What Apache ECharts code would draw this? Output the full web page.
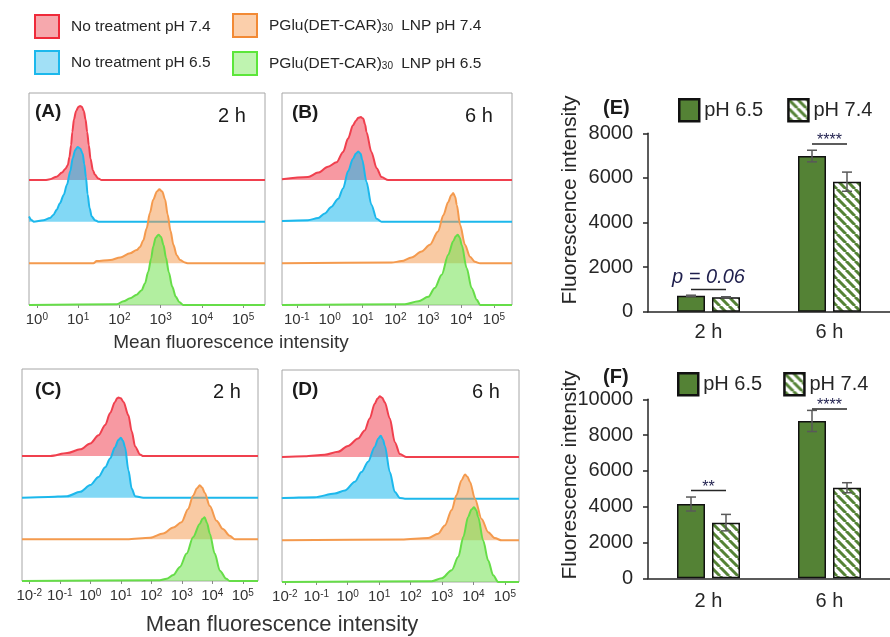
<!DOCTYPE html>
<html><head><meta charset="utf-8">
<script src="https://cdn.jsdelivr.net/npm/echarts@6/dist/echarts.min.js"></script>
<style>html,body{margin:0;padding:0;background:#fff}#c{width:890px;height:637px}</style>
</head><body><div id="c"></div>
<script>
// ---------- Histogram data: [log10(fluorescence), % of mode] ----------
const aRed    = [[0.20,0],[0.32,1],[0.48,4.5],[0.61,10],[0.69,15],[0.75,20],[0.79,31],[0.83,47],[0.86,65],[0.90,82],[0.95,93],[1.01,99],[1.05,100],[1.09,99],[1.14,93],[1.18,82],[1.22,65],[1.26,47],[1.30,29],[1.36,13],[1.41,7],[1.49,2],[1.57,0]];
const aBlue   = [[-0.19,7],[-0.12,2],[-0.08,0],[0.16,2],[0.32,5],[0.40,9],[0.48,16],[0.56,25],[0.65,36],[0.73,50],[0.81,68],[0.87,86],[0.93,97],[0.99,101],[1.05,99],[1.11,92],[1.15,78],[1.19,60],[1.23,37],[1.28,18],[1.33,7],[1.41,2],[1.49,0]];
const aOrange = [[1.37,0],[1.45,3],[1.78,4.5],[2.02,8],[2.26,13.5],[2.42,18],[2.50,22],[2.58,31],[2.66,47],[2.74,68],[2.82,86],[2.91,97],[2.97,100],[3.04,97],[3.11,86],[3.17,66],[3.24,44],[3.31,25],[3.39,11],[3.47,4.5],[3.59,1],[3.67,0]];
const aGreen  = [[1.94,1],[2.10,5],[2.26,9],[2.42,14],[2.54,20],[2.62,29],[2.70,45],[2.77,63],[2.82,79],[2.88,91],[2.95,95],[3.01,92],[3.07,81],[3.13,64],[3.20,44],[3.28,25],[3.37,11],[3.45,4],[3.55,0]];

const bRed    = [[-1.45,1],[-0.66,4],[-0.35,10],[-0.05,18],[0.21,24],[0.41,38],[0.56,56],[0.71,74],[0.80,80],[0.87,84],[0.95,85],[1.02,83],[1.08,75],[1.12,65],[1.27,38],[1.43,16],[1.58,4],[1.78,0]];
const bBlue   = [[-1.45,1],[-0.66,2],[-0.35,5],[-0.15,11],[0.05,20],[0.26,31],[0.41,45],[0.56,68],[0.71,85],[0.80,92],[0.87,95],[0.94,92],[0.99,84],[1.12,54],[1.27,23],[1.43,4],[1.58,0]];
const bOrange = [[1.88,1],[2.19,3],[2.49,8],[2.80,16],[3.05,25],[3.30,43],[3.46,65],[3.61,83],[3.70,92],[3.76,95],[3.82,90],[3.87,79],[3.97,52],[4.12,25],[4.27,9],[4.42,2],[4.58,0]];
const bGreen  = [[2.29,1],[2.70,5],[3.00,11],[3.20,23],[3.41,41],[3.61,68],[3.76,86],[3.84,93],[3.90,95],[3.96,91],[4.02,81],[4.17,50],[4.32,23],[4.48,7],[4.58,0]];

const cRed    = [[-1.31,0],[-0.76,4],[-0.33,9],[0.00,17],[0.27,28],[0.49,42],[0.65,58],[0.81,73],[0.88,78],[0.92,79],[1.00,78],[1.09,73],[1.25,55],[1.36,33],[1.47,13],[1.63,2],[1.74,0]];
const cBlue   = [[-1.37,1],[-0.76,2],[-0.33,8],[0.00,17],[0.27,28],[0.49,41],[0.65,53],[0.81,68],[0.92,78],[1.00,81],[1.07,77],[1.14,68],[1.25,37],[1.36,12],[1.47,2],[1.74,0]];
const cOrange = [[1.20,0],[1.96,2],[2.39,8],[2.72,16],[2.99,23],[3.21,41],[3.37,59],[3.50,69],[3.59,73],[3.67,70],[3.75,63],[3.92,45],[4.14,25],[4.35,14],[4.57,5],[4.74,0]];
const cGreen  = [[2.28,1],[2.50,3],[2.72,8],[2.94,19],[3.16,37],[3.37,59],[3.59,77],[3.68,84],[3.75,86],[3.83,78],[3.92,64],[4.08,37],[4.25,14],[4.46,3],[4.57,0]];

const dRed    = [[-1.37,1],[-0.73,3],[-0.31,7],[0.01,15],[0.33,25],[0.54,36],[0.70,52],[0.86,72],[0.95,79],[1.02,82],[1.10,80],[1.18,74],[1.34,52],[1.50,20],[1.66,4],[1.87,0]];
const dBlue   = [[-2.06,1],[-1.05,2],[-0.41,7],[-0.09,11],[0.23,23],[0.44,36],[0.65,50],[0.86,70],[0.97,81],[1.05,85],[1.12,80],[1.18,72],[1.34,36],[1.50,9],[1.66,1],[1.82,0]];
const dOrange = [[1.71,1],[2.56,3],[2.88,9],[3.09,20],[3.31,41],[3.46,61],[3.62,81],[3.73,89],[3.81,86],[3.89,79],[4.05,56],[4.26,29],[4.47,11],[4.68,3],[4.90,0]];
const dGreen  = [[2.67,1],[2.99,5],[3.31,16],[3.52,34],[3.68,61],[3.83,88],[3.94,98],[4.02,101],[4.09,97],[4.15,88],[4.31,56],[4.47,29],[4.63,9],[4.79,0]];

const ticksA = [0,1,2,3,4,5];
const ticksB = [-1,0,1,2,3,4,5];
const ticksC = [-2,-1,0,1,2,3,4,5];
const ticksD = [-2,-1,0,1,2,3,4,5];

const histNames = ['No treatment pH 7.4','No treatment pH 6.5','PGlu(DET-CAR)30 LNP pH 7.4','PGlu(DET-CAR)30 LNP pH 6.5'];

// ---------- Bar data ----------
const cats = ['2 h','6 h'];
const e65 = [710, 6980];   const e65err = [30, 260];
const e74 = [645, 5830];   const e74err = [25, 430];
const f65 = [4150, 8790];  const f65err = [390, 590];
const f74 = [3110, 5060];  const f74err = [460, 280];
const sigEcat = [0, 1];  const sigElevel = [1000, 7520];  const sigEtext = ['p = 0.06', '****'];
const sigFcat = [0, 1];  const sigFlevel = [4900, 9460];  const sigFtext = ['**', '****'];

// ---------- styling ----------
const FONT = '"Liberation Sans", Arial, Helvetica, sans-serif';
const lineColors = ['#f0404e','#1cb8ec','#f49a4e','#66dd48'];
const fillColors = ['rgba(240,70,85,0.55)','rgba(28,184,236,0.55)','rgba(244,154,78,0.52)','rgba(115,226,82,0.55)'];
const legFill = ['#f6a8ad','#a2e0f6','#fbcfab','#bff4b0'];
const legBorder = ['#ef2a3a','#1cb8ec','#f28a35','#5ce63a'];
const GREEN = '#548235';
const YMAX = 286.5, ROW = 56.3;

function hatchCanvas(){
  const c = document.createElement('canvas'); c.width = 9; c.height = 9;
  const g = c.getContext('2d');
  g.fillStyle = '#fff'; g.fillRect(0,0,9,9);
  g.strokeStyle = GREEN; g.lineWidth = 3;
  for (const o of [-9,0,9]) { g.beginPath(); g.moveTo(o,0); g.lineTo(o+9,9); g.stroke(); }
  return c;
}
const HATCH = {image: hatchCanvas(), repeat: 'repeat'};

const panels = [
  {data:[aRed,aBlue,aOrange,aGreen], min:-0.19, max:5.53, ticks:ticksA, grid:{left:29, top:93, width:236, height:212}},
  {data:[bRed,bBlue,bOrange,bGreen], min:-1.45, max:5.55, ticks:ticksB, grid:{left:282, top:93, width:230, height:212}},
  {data:[cRed,cBlue,cOrange,cGreen], min:-2.24, max:5.50, ticks:ticksC, grid:{left:22, top:369, width:236, height:212}},
  {data:[dRed,dBlue,dOrange,dGreen], min:-2.09, max:5.45, ticks:ticksD, grid:{left:282, top:370, width:237, height:212}}
];

const grids = [], xAxes = [], yAxes = [], series = [];
panels.forEach((p, pi) => {
  grids.push(Object.assign({show:true, borderColor:'#a6a6a6', borderWidth:1, backgroundColor:'#fff'}, p.grid));
  xAxes.push({gridIndex:pi, type:'value', min:p.min, max:p.max,
    axisLine:{show:false}, splitLine:{show:false},
    axisTick:{show:true, customValues:p.ticks, length:3, lineStyle:{color:'#888'}},
    axisLabel:{customValues:p.ticks, margin:7, fontFamily:FONT,
      formatter: v => '{b|10}{s|' + v + '}',
      rich:{b:{fontSize:15, color:'#333', fontFamily:FONT}, s:{fontSize:10, color:'#333', verticalAlign:'top', fontFamily:FONT}}}});
  yAxes.push({gridIndex:pi, type:'value', min:0, max:YMAX, show:false});
  p.data.forEach((d, k) => {
    const off = (3 - k) * ROW;
    const pts = d.slice();
    if (pts[0][0] > p.min) pts.unshift([p.min, 0]);
    if (pts[pts.length-1][0] < p.max) pts.push([p.max, 0]);
    series.push({type:'line', name:histNames[k], xAxisIndex:pi, yAxisIndex:pi,
      data: pts.map(q => [q[0], q[1] + off]), symbol:'none', smooth:0.3, smoothMonotone:'x',
      lineStyle:{color:lineColors[k], width:2}, itemStyle:{color:lineColors[k]},
      areaStyle:{origin:off, color:fillColors[k], opacity:1}, z:2+k, silent:true});
  });
});

function errRender(dx){
  return function(params, api){
    const i = api.value(0), v = api.value(1), e = api.value(2);
    const t = api.coord([i, v + e]), b = api.coord([i, v - e]);
    const x = t[0] + dx, w = 5;
    const st = {stroke:'#595959', lineWidth:1.5};
    return {type:'group', children:[
      {type:'line', shape:{x1:x, y1:t[1], x2:x, y2:b[1]}, style:st},
      {type:'line', shape:{x1:x-w, y1:t[1], x2:x+w, y2:t[1]}, style:st},
      {type:'line', shape:{x1:x-w, y1:b[1], x2:x+w, y2:b[1]}, style:st}]};
  };
}
function sigRender(texts){
  return function(params, api){
    const i = api.value(0), lvl = api.value(1);
    const p = api.coord([i, lvl]);
    const t = texts[params.dataIndex];
    const star = t.charAt(0) === '*';
    return {type:'group', children:[
      {type:'line', shape:{x1:p[0]-17.5, y1:p[1], x2:p[0]+17.5, y2:p[1]}, style:{stroke:'#262626', lineWidth:1.5}},
      {type:'text', x:p[0], y: star ? p[1] + 5 : p[1] - 2,
        style:{text:t, fontSize: star ? 16 : 20, fontStyle: star ? 'normal' : 'italic', fontFamily:FONT,
               fill:'#1f1f4d', align:'center', verticalAlign:'bottom'}}]};
  };
}

const barPanels = [
  {v65:e65, v74:e74, r65:e65err, r74:e74err, max:8000, sc:sigEcat, sl:sigElevel, st:sigEtext, grid:{left:648, top:133.3, width:247, height:178.4}, lm:11},
  {v65:f65, v74:f74, r65:f65err, r74:f74err, max:10000, sc:sigFcat, sl:sigFlevel, st:sigFtext, grid:{left:648, top:399.3, width:247, height:179}, lm:13}
];
barPanels.forEach((b, j) => {
  const gi = 4 + j;
  grids.push(b.grid);
  xAxes.push({gridIndex:gi, type:'category', data:cats,
    axisLine:{lineStyle:{color:'#262626', width:1.5}}, axisTick:{show:false},
    axisLabel:{fontSize:20, color:'#262626', margin:b.lm, fontFamily:FONT}});
  yAxes.push({gridIndex:gi, type:'value', min:0, max:b.max, interval:2000,
    axisLine:{show:true, lineStyle:{color:'#262626', width:1.5}},
    axisTick:{show:true, length:5, lineStyle:{color:'#262626', width:1.5}},
    axisLabel:{fontSize:20, color:'#262626', margin:15, fontFamily:FONT, formatter: v => String(v)}, splitLine:{show:false}});
  series.push({type:'bar', name:'pH 6.5', xAxisIndex:gi, yAxisIndex:gi, data:b.v65, barWidth:28, barGap:'25%',
    itemStyle:{color:GREEN, borderColor:'#111', borderWidth:1.5}});
  series.push({type:'bar', name:'pH 7.4', xAxisIndex:gi, yAxisIndex:gi, data:b.v74, barWidth:28, barGap:'25%',
    itemStyle:{color:HATCH, borderColor:'#111', borderWidth:1.5}});
  series.push({type:'custom', xAxisIndex:gi, yAxisIndex:gi, data:cats.map((c,i)=>[i, b.v65[i], b.r65[i]]), renderItem:errRender(-17.5), z:5, silent:true});
  series.push({type:'custom', xAxisIndex:gi, yAxisIndex:gi, data:cats.map((c,i)=>[i, b.v74[i], b.r74[i]]), renderItem:errRender(17.5), z:5, silent:true});
  series.push({type:'custom', xAxisIndex:gi, yAxisIndex:gi, data:b.sc.map((c,i)=>[c, b.sl[i]]), renderItem:sigRender(b.st), z:6, silent:true});
});

const legText = {fontSize:15.5, color:'#262626', fontFamily:FONT, padding:[0,0,0,7],
  rich:{sub:{fontSize:10, color:'#262626', fontFamily:FONT, verticalAlign:'bottom', padding:[6,4,0,0]}}};
function legItem(k){ return {name:histNames[k], icon:'rect', itemStyle:{color:legFill[k], borderColor:legBorder[k], borderWidth:2}}; }
const barLeg = (left, top, gap) => ({data:[
    {name:'pH 6.5', icon:'rect', itemStyle:{color:GREEN, borderColor:'#111', borderWidth:2.5}},
    {name:'pH 7.4', icon:'rect', itemStyle:{color:HATCH, borderColor:'#111', borderWidth:2.5}}],
  left, top, padding:0, itemWidth:20, itemHeight:22, itemGap:gap, selectedMode:false,
  textStyle:{fontSize:20, color:'#262626', fontFamily:FONT}});

const txt = (text, x, y, size, extra) => ({type:'text', x, y, style:Object.assign({text, fontSize:size, fontFamily:FONT, fill:'#1a1a1a', verticalAlign:'middle'}, extra||{})});

const option = {
  animation:false,
  backgroundColor:'#fff',
  grid:grids, xAxis:xAxes, yAxis:yAxes, series,
  legend:[
    {data:[legItem(0), legItem(1)], orient:'vertical', left:34, top:14, padding:0, itemWidth:24, itemHeight:23, itemGap:11, selectedMode:false, textStyle:legText},
    {data:[legItem(2), legItem(3)], orient:'vertical', left:232, top:13, padding:0, itemWidth:24, itemHeight:23, itemGap:13, selectedMode:false, textStyle:legText,
      formatter: n => n.replace('30', '{sub|30}')},
    barLeg(678, 98, 24),
    barLeg(677, 372, 21)
  ],
  graphic:[
    txt('(A)', 35, 112, 19, {fontWeight:'bold'}),
    txt('2 h', 218, 116, 20),
    txt('(B)', 292, 113, 19, {fontWeight:'bold'}),
    txt('6 h', 465, 116, 20),
    txt('(C)', 35, 390, 19, {fontWeight:'bold'}),
    txt('2 h', 213, 392, 20),
    txt('(D)', 292, 390, 19, {fontWeight:'bold'}),
    txt('6 h', 472, 392, 20),
    txt('(E)', 603, 108, 20, {fontWeight:'bold'}),
    txt('(F)', 603, 377, 20, {fontWeight:'bold'}),
    txt('Mean fluorescence intensity', 231, 343, 19, {align:'center', fill:'#333'}),
    txt('Mean fluorescence intensity', 282, 625, 22, {align:'center', fill:'#333'}),
    {type:'text', x:570, y:200, rotation:Math.PI/2, style:{text:'Fluorescence intensity', fontSize:21, fontFamily:FONT, fill:'#262626', align:'center', verticalAlign:'middle'}},
    {type:'text', x:570, y:475, rotation:Math.PI/2, style:{text:'Fluorescence intensity', fontSize:21, fontFamily:FONT, fill:'#262626', align:'center', verticalAlign:'middle'}}
  ]
};
const chart = echarts.init(document.getElementById('c'), null, {renderer:'canvas'});
chart.setOption(option);
</script></body></html>
